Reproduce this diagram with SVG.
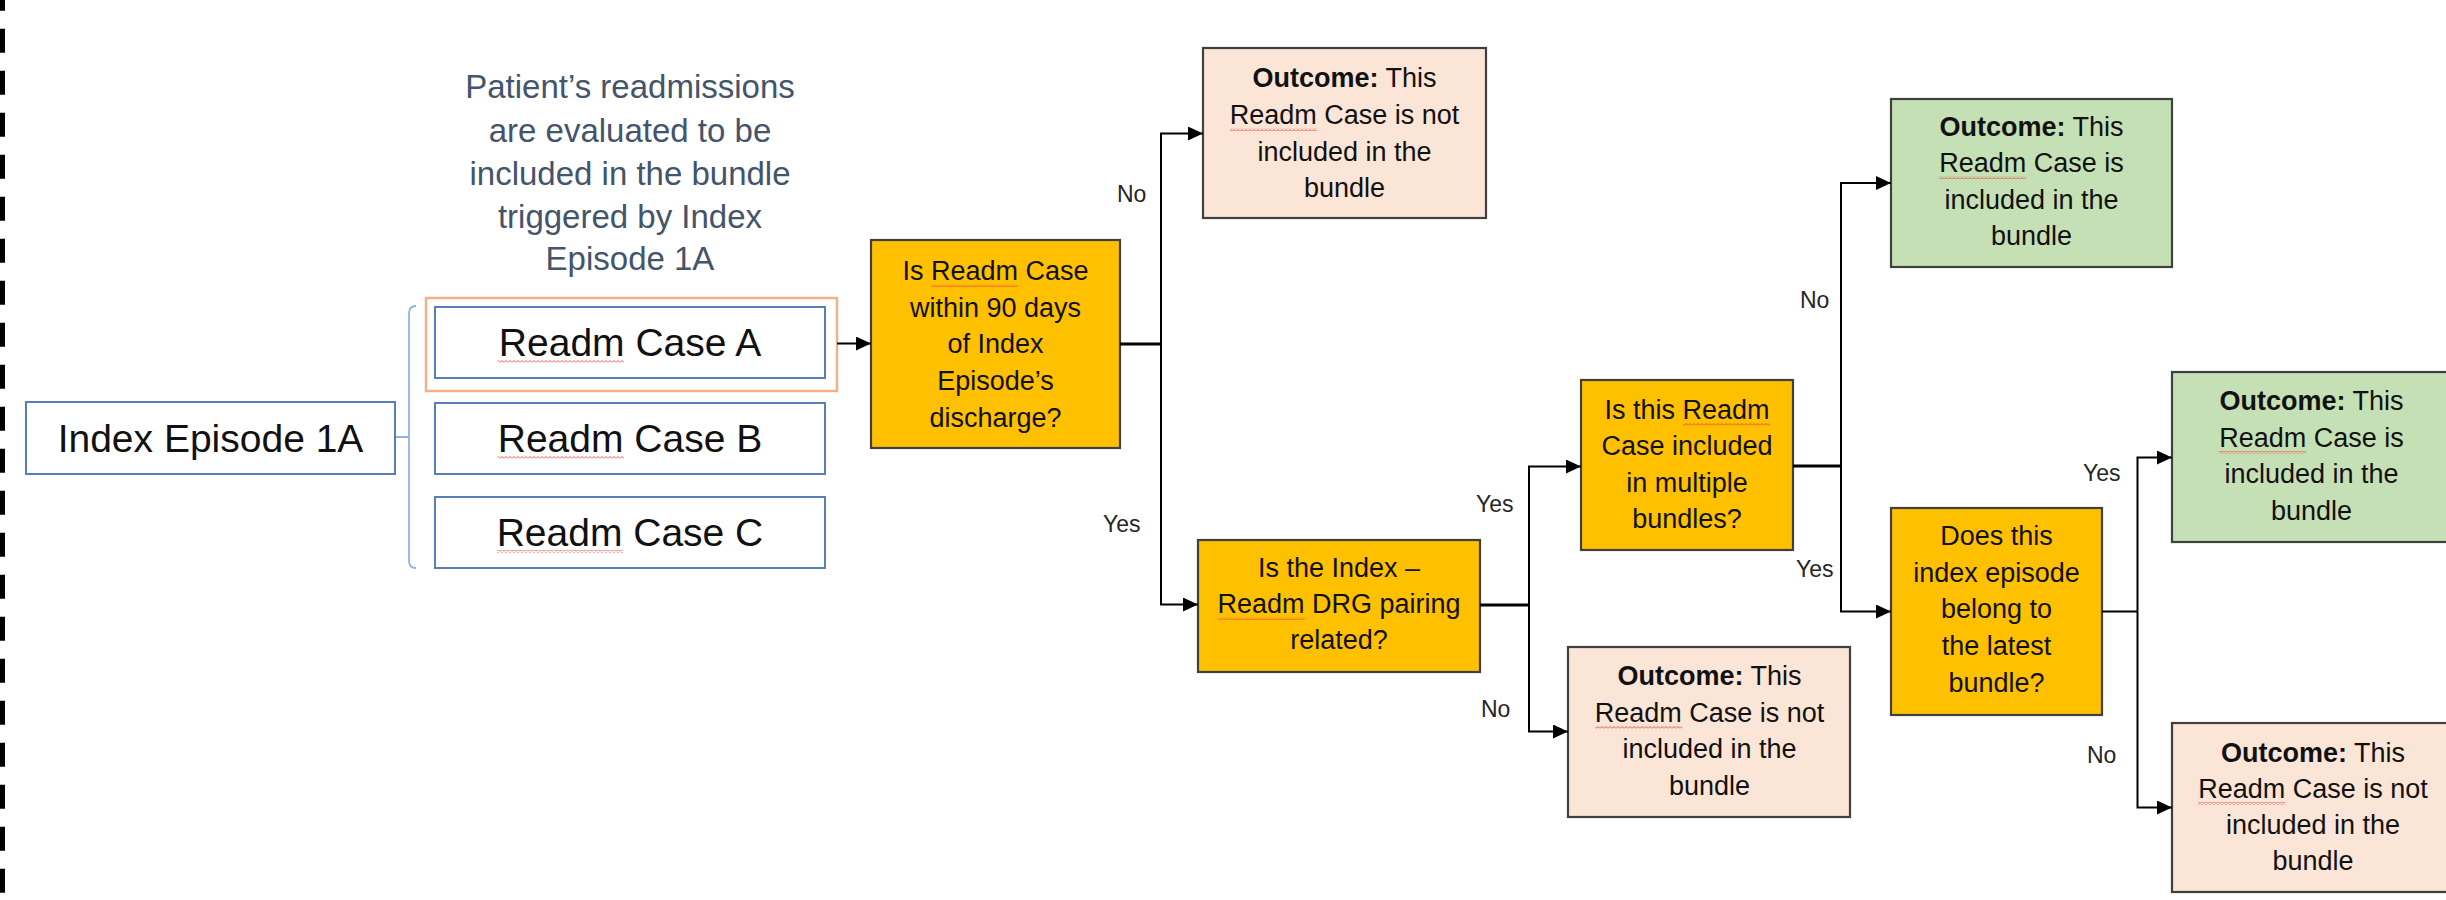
<svg xmlns="http://www.w3.org/2000/svg" width="2446" height="900" viewBox="0 0 2446 900">
<style>
  text { font-family: "Liberation Sans", Arial, sans-serif; fill: #000; }
  .title { font-size: 33px; fill: #44546A; text-anchor: middle; }
  .big { font-size: 39px; text-anchor: middle; fill: #111; }
  .bt { font-size: 27px; text-anchor: middle; fill: #111; }
  .lbl { font-size: 23px; fill: #262626; }
  .blue { fill: #fff; stroke: #5A7FB8; stroke-width: 2; }
  .dec { fill: #FFC000; stroke: #404040; stroke-width: 2.2; }
  .neg { fill: #FBE5D6; stroke: #404040; stroke-width: 2.2; }
  .pos { fill: #C5E0B4; stroke: #404040; stroke-width: 2.2; }
  .conn { fill: none; stroke: #000; stroke-width: 2; }
  .stub { fill: none; stroke: #000; stroke-width: 3; }
  .sq { fill: url(#squig); }
</style>
<defs>
  <marker id="arr" markerUnits="userSpaceOnUse" markerWidth="16" markerHeight="14" refX="15" refY="7" orient="auto">
    <path d="M0,0 L15,7 L0,14 z" fill="#000"/>
  </marker>
  <pattern id="squig" patternUnits="userSpaceOnUse" width="4" height="3">
    <path d="M0,2.5 L2,0.5 L4,2.5" fill="none" stroke="#F03C3C" stroke-width="0.9"/>
  </pattern>
</defs>
<rect x="0" y="0" width="2446" height="900" fill="#fff"/>

<!-- left dashed border -->
<line x1="2.5" y1="0" x2="2.5" y2="900" stroke="#000" stroke-width="5" stroke-dasharray="24 18" stroke-dashoffset="13.3"/>

<!-- title -->
<g id="title">
  <text class="title" x="630" y="98">Patient’s readmissions</text>
  <text class="title" x="630" y="142">are evaluated to be</text>
  <text class="title" x="630" y="185">included in the bundle</text>
  <text class="title" x="630" y="228">triggered by Index</text>
  <text class="title" x="630" y="270">Episode 1A</text>
</g>

<g id="index-episode">
  <rect class="blue" x="26" y="402" width="369" height="72"/>
  <text class="big" x="210.5" y="452">Index Episode 1A</text>
</g>

<g id="bracket">
  <path d="M416,306 Q409,306 409,313 L409,561 Q409,568 416,568 M396,437 L409,437" fill="none" stroke="#8FB4E3" stroke-width="1.8"/>
</g>

<g id="highlight">
  <rect x="426" y="298" width="411" height="93" fill="none" stroke="#F4B183" stroke-width="2.5"/>
</g>

<g id="case-a">
  <rect class="blue" x="435" y="307" width="390" height="71"/>
  <text class="big" x="630" y="356">Readm Case A</text>
</g>
<g id="case-b">
  <rect class="blue" x="435" y="403" width="390" height="71"/>
  <text class="big" x="630" y="452">Readm Case B</text>
</g>
<g id="case-c">
  <rect class="blue" x="435" y="497" width="390" height="71"/>
  <text class="big" x="630" y="546">Readm Case C</text>
</g>

<g id="q1">
  <rect class="dec" x="871" y="240" width="249" height="208"/>
  <text class="bt" x="995.5" y="280">Is Readm Case</text>
  <text class="bt" x="995.5" y="317">within 90 days</text>
  <text class="bt" x="995.5" y="353">of Index</text>
  <text class="bt" x="995.5" y="390">Episode’s</text>
  <text class="bt" x="995.5" y="427">discharge?</text>
</g>

<g id="out1">
  <rect class="neg" x="1203" y="48" width="283" height="170"/>
  <text class="bt" x="1344.5" y="87"><tspan font-weight="bold">Outcome:</tspan> This</text>
  <text class="bt" x="1344.5" y="124">Readm Case is not</text>
  <text class="bt" x="1344.5" y="161">included in the</text>
  <text class="bt" x="1344.5" y="197">bundle</text>
</g>

<g id="q2">
  <rect class="dec" x="1198" y="540" width="282" height="132"/>
  <text class="bt" x="1339" y="577">Is the Index –</text>
  <text class="bt" x="1339" y="613">Readm DRG pairing</text>
  <text class="bt" x="1339" y="649">related?</text>
</g>

<g id="q3">
  <rect class="dec" x="1581" y="380" width="212" height="170"/>
  <text class="bt" x="1687" y="419">Is this Readm</text>
  <text class="bt" x="1687" y="455">Case included</text>
  <text class="bt" x="1687" y="492">in multiple</text>
  <text class="bt" x="1687" y="528">bundles?</text>
</g>

<g id="out2">
  <rect class="neg" x="1568" y="647" width="282" height="170"/>
  <text class="bt" x="1709.5" y="685"><tspan font-weight="bold">Outcome:</tspan> This</text>
  <text class="bt" x="1709.5" y="722">Readm Case is not</text>
  <text class="bt" x="1709.5" y="758">included in the</text>
  <text class="bt" x="1709.5" y="795">bundle</text>
</g>

<g id="out3">
  <rect class="pos" x="1891" y="99" width="281" height="168"/>
  <text class="bt" x="2031.5" y="136"><tspan font-weight="bold">Outcome:</tspan> This</text>
  <text class="bt" x="2031.5" y="172">Readm Case is</text>
  <text class="bt" x="2031.5" y="209">included in the</text>
  <text class="bt" x="2031.5" y="245">bundle</text>
</g>

<g id="q4">
  <rect class="dec" x="1891" y="508" width="211" height="207"/>
  <text class="bt" x="1996.5" y="545">Does this</text>
  <text class="bt" x="1996.5" y="582">index episode</text>
  <text class="bt" x="1996.5" y="618">belong to</text>
  <text class="bt" x="1996.5" y="655">the latest</text>
  <text class="bt" x="1996.5" y="692">bundle?</text>
</g>

<g id="out4">
  <rect class="pos" x="2172" y="372" width="282" height="170"/>
  <text class="bt" x="2311.5" y="410"><tspan font-weight="bold">Outcome:</tspan> This</text>
  <text class="bt" x="2311.5" y="447">Readm Case is</text>
  <text class="bt" x="2311.5" y="483">included in the</text>
  <text class="bt" x="2311.5" y="520">bundle</text>
</g>

<g id="out5">
  <rect class="neg" x="2172" y="723" width="282" height="169"/>
  <text class="bt" x="2313" y="762"><tspan font-weight="bold">Outcome:</tspan> This</text>
  <text class="bt" x="2313" y="798">Readm Case is not</text>
  <text class="bt" x="2313" y="834">included in the</text>
  <text class="bt" x="2313" y="870">bundle</text>
</g>

<g id="connectors">
  <path class="conn" d="M837,343.5 L871,343.5" marker-end="url(#arr)"/>
  <path class="stub" d="M1120,344 L1161,344"/>
  <path class="conn" d="M1161,344 L1161,133.5 L1203,133.5" marker-end="url(#arr)"/>
  <path class="conn" d="M1161,344 L1161,604.5 L1198,604.5" marker-end="url(#arr)"/>

  <path class="stub" d="M1480,605 L1529,605"/>
  <path class="conn" d="M1529,605 L1529,466.5 L1581,466.5" marker-end="url(#arr)"/>
  <path class="conn" d="M1529,605 L1529,731.5 L1568,731.5" marker-end="url(#arr)"/>

  <path class="stub" d="M1793,466 L1841,466"/>
  <path class="conn" d="M1841,466 L1841,183 L1891,183" marker-end="url(#arr)"/>
  <path class="conn" d="M1841,466 L1841,611.5 L1891,611.5" marker-end="url(#arr)"/>

  <path class="conn" d="M2102,611.5 L2137.5,611.5"/>
  <path class="conn" d="M2137.5,611.5 L2137.5,457.5 L2172,457.5" marker-end="url(#arr)"/>
  <path class="conn" d="M2137.5,611.5 L2137.5,807.5 L2172,807.5" marker-end="url(#arr)"/>
</g>

<g id="labels">
  <text class="lbl" x="1117" y="202">No</text>
  <text class="lbl" x="1103" y="532">Yes</text>
  <text class="lbl" x="1476" y="512">Yes</text>
  <text class="lbl" x="1481" y="717">No</text>
  <text class="lbl" x="1800" y="308">No</text>
  <text class="lbl" x="1796" y="577">Yes</text>
  <text class="lbl" x="2083" y="481">Yes</text>
  <text class="lbl" x="2087" y="763">No</text>
</g>

<g id="spellcheck">
  <rect class="sq" x="498" y="360" width="126" height="3"/>
  <rect class="sq" x="498" y="456" width="126" height="3"/>
  <rect class="sq" x="497" y="550" width="126" height="3"/>
  <rect class="sq" x="1230" y="128" width="87" height="3"/>
  <rect class="sq" x="931" y="284" width="87" height="3"/>
  <rect class="sq" x="1218" y="617" width="87" height="3"/>
  <rect class="sq" x="1683" y="423" width="87" height="3"/>
  <rect class="sq" x="1595" y="726" width="87" height="3"/>
  <rect class="sq" x="1939" y="176" width="87" height="3"/>
  <rect class="sq" x="2219" y="451" width="87" height="3"/>
  <rect class="sq" x="2198" y="802" width="87" height="3"/>
</g>
</svg>
